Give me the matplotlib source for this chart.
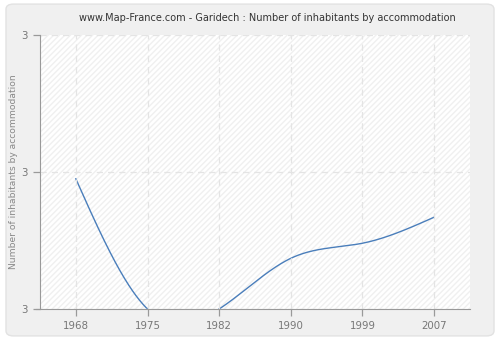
import numpy as np
import matplotlib
matplotlib.use("Agg")
import matplotlib.pyplot as plt
from matplotlib.patches import FancyBboxPatch, Rectangle
from matplotlib.ticker import FixedLocator, FormatStrFormatter

# data
years = ['1968', '1975', '1982', '1990', '1999', '2007']
inhabitants = [2.99, 2.80, 2.80, 2.874, 2.896, 2.934]


# natural cubic spline through the points (chart draws a smoothed line)
def natural_spline(x, y, n=400):
    x = np.asarray(x, float)
    y = np.asarray(y, float)
    k = len(x)
    h = np.diff(x)
    A = np.zeros((k, k))
    b = np.zeros(k)
    A[0, 0] = 1
    A[-1, -1] = 1
    for i in range(1, k - 1):
        A[i, i - 1] = h[i - 1]
        A[i, i] = 2 * (h[i - 1] + h[i])
        A[i, i + 1] = h[i]
        b[i] = 3 * ((y[i + 1] - y[i]) / h[i] - (y[i] - y[i - 1]) / h[i - 1])
    c = np.linalg.solve(A, b)
    xs = np.linspace(x[0], x[-1], n)
    ys = np.empty_like(xs)
    for j, xv in enumerate(xs):
        i = min(np.searchsorted(x, xv, side='right') - 1, k - 2)
        bi = (y[i + 1] - y[i]) / h[i] - h[i] * (2 * c[i] + c[i + 1]) / 3
        di = (c[i + 1] - c[i]) / (3 * h[i])
        dx = xv - x[i]
        ys[j] = y[i] + bi * dx + c[i] * dx ** 2 + di * dx ** 3
    return xs, ys


fig = plt.figure(figsize=(5, 3.4), dpi=100)
fig.patch.set_facecolor('white')

# rounded grey background panel
panel = FancyBboxPatch((0.012, 0.012), 0.976, 0.976, boxstyle="round,pad=0,rounding_size=0.015",
                       transform=fig.transFigure, facecolor='#f0f0f0', edgecolor='#e2e2e2',
                       linewidth=1, zorder=-10)
fig.patches.append(panel)

ax = fig.add_axes([0.08, 0.0912, 0.86, 0.806])
ax.set_facecolor('white')

# hatched plot background
ax.add_patch(Rectangle((0, 0), 1, 1, transform=ax.transAxes, facecolor='white',
                       edgecolor='#f0f0f0', hatch='//////', linewidth=0, zorder=0))

idx = np.arange(len(years))
xs, ys = natural_spline(idx, inhabitants)
ax.plot(xs, ys, color='#4a7ebb', linewidth=1.0, zorder=2)

ax.set_xlim(-0.5, 5.5)
ax.set_ylim(2.8, 3.2)
ax.set_xticks(idx)
ax.set_xticklabels(years)
ax.yaxis.set_major_locator(FixedLocator([2.8, 3.0, 3.2]))
ax.yaxis.set_major_formatter(FormatStrFormatter('%.0f'))

ax.grid(True, color='#e4e4e4', linestyle=(0, (5, 4)), linewidth=0.9)
ax.set_axisbelow(False)
for line in ax.get_xgridlines() + ax.get_ygridlines():
    line.set_zorder(1)

for s in ['top', 'right']:
    ax.spines[s].set_visible(False)
for s in ['left', 'bottom']:
    ax.spines[s].set_color('#999999')
    ax.spines[s].set_zorder(3)
ax.spines['bottom'].set_bounds(-0.55, 5.5)

ax.tick_params(axis='both', colors='#999999', labelcolor='#777777', labelsize=7.4,
               length=5, width=0.9)
ax.tick_params(axis='x', pad=4)

ax.set_ylabel('Number of inhabitants by accommodation', fontsize=6.6, color='#888888')
ax.yaxis.set_label_coords(-0.05, 0.5)
fig.text(0.535, 0.946, 'www.Map-France.com - Garidech : Number of inhabitants by accommodation',
         fontsize=7, color='#333333', ha='center', va='center')

fig.savefig('out.png', dpi=100, facecolor=fig.get_facecolor())
